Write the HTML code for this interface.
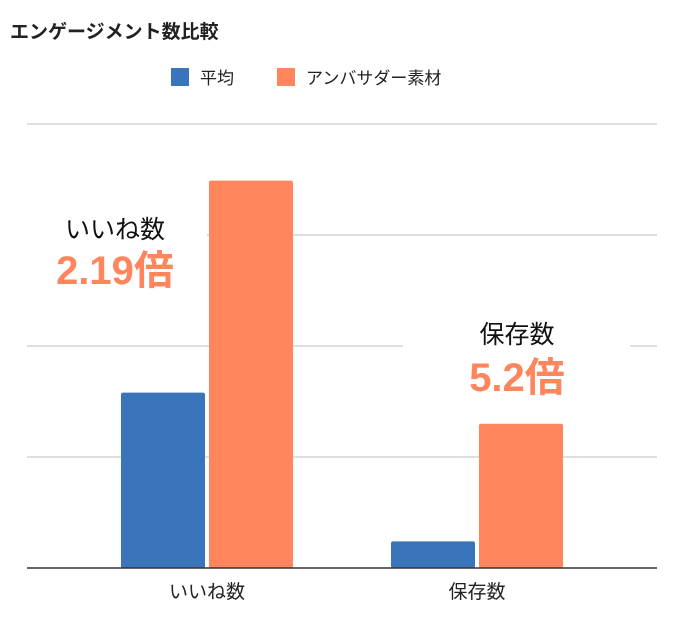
<!DOCTYPE html>
<html><head><meta charset="utf-8"><style>
body{margin:0;background:#fff;}
svg text{font-family:"Liberation Sans","Noto Sans CJK JP",sans-serif;}
</style></head><body>
<svg width="678" height="616" viewBox="0 0 678 616" xmlns="http://www.w3.org/2000/svg">
<rect width="678" height="616" fill="#fff"/>
<text x="10" y="38" font-size="19" font-weight="bold" fill="#222">エンゲージメント数比較</text>
<g>
<rect x="171" y="68" width="18" height="18" fill="#3a75bc"/>
<text x="200" y="84" font-size="17" fill="#222">平均</text>
<rect x="277" y="68" width="18" height="18" fill="#ff855c"/>
<text x="306" y="84" font-size="17" fill="#222">アンバサダー素材</text>
</g>
<g id="grid"></g>
<g id="bars"></g>
<rect x="403" y="320" width="227" height="80" fill="#fff"/>
<rect x="27" y="205" width="180" height="90" fill="#fff"/>
<text x="115" y="238" font-size="25" text-anchor="middle" fill="#111">いいね数</text>
<text x="115" y="284" font-size="40" font-weight="bold" text-anchor="middle" fill="#ff855c">2.19倍</text>
<text x="517" y="343" font-size="25" text-anchor="middle" fill="#111">保存数</text>
<text x="517" y="391" font-size="40" font-weight="bold" text-anchor="middle" fill="#ff855c">5.2倍</text>
<line x1="27" y1="568" x2="657" y2="568" stroke="#333" stroke-width="1.5"/>
<g id="xlabels"></g>
</svg>
<script>
const categories=["いいね数","保存数"];
const avgValues=[1.58,0.24];
const ambValues=[3.49,1.30];
const gridTicks=[1,2,3,4];
const ns="http://www.w3.org/2000/svg";
const y0=568,unit=111;
function yS(v){return y0-v*unit;}
function xC(i){return 207+i*270;}
const grid=document.getElementById('grid');
gridTicks.forEach(t=>{const l=document.createElementNS(ns,'line');
l.setAttribute('x1',27);l.setAttribute('x2',657);l.setAttribute('y1',yS(t));l.setAttribute('y2',yS(t));
l.setAttribute('stroke','#ccc');l.setAttribute('stroke-width','1.2');


grid.appendChild(l);});
const bars=document.getElementById('bars');
function bar(x,v,c,n){const r=document.createElementNS(ns,'rect');
r.setAttribute('x',x);r.setAttribute('width',84);r.setAttribute('y',yS(v));r.setAttribute('height',v*unit);
r.setAttribute('fill',c);r.setAttribute('rx',2);


bars.appendChild(r);}
const xl=document.getElementById('xlabels');
categories.forEach((c,i)=>{const cx=xC(i);
bar(cx-86,avgValues[i],'#3a75bc','bar-avg-'+i);
bar(cx+2,ambValues[i],'#ff855c','bar-ambassador-'+i);
const t=document.createElementNS(ns,'text');
t.setAttribute('x',cx);t.setAttribute('y',598);t.setAttribute('text-anchor','middle');t.setAttribute('font-size','19');t.setAttribute('fill','#222');
t.textContent=c;


xl.appendChild(t);});
</script>
</body></html>
